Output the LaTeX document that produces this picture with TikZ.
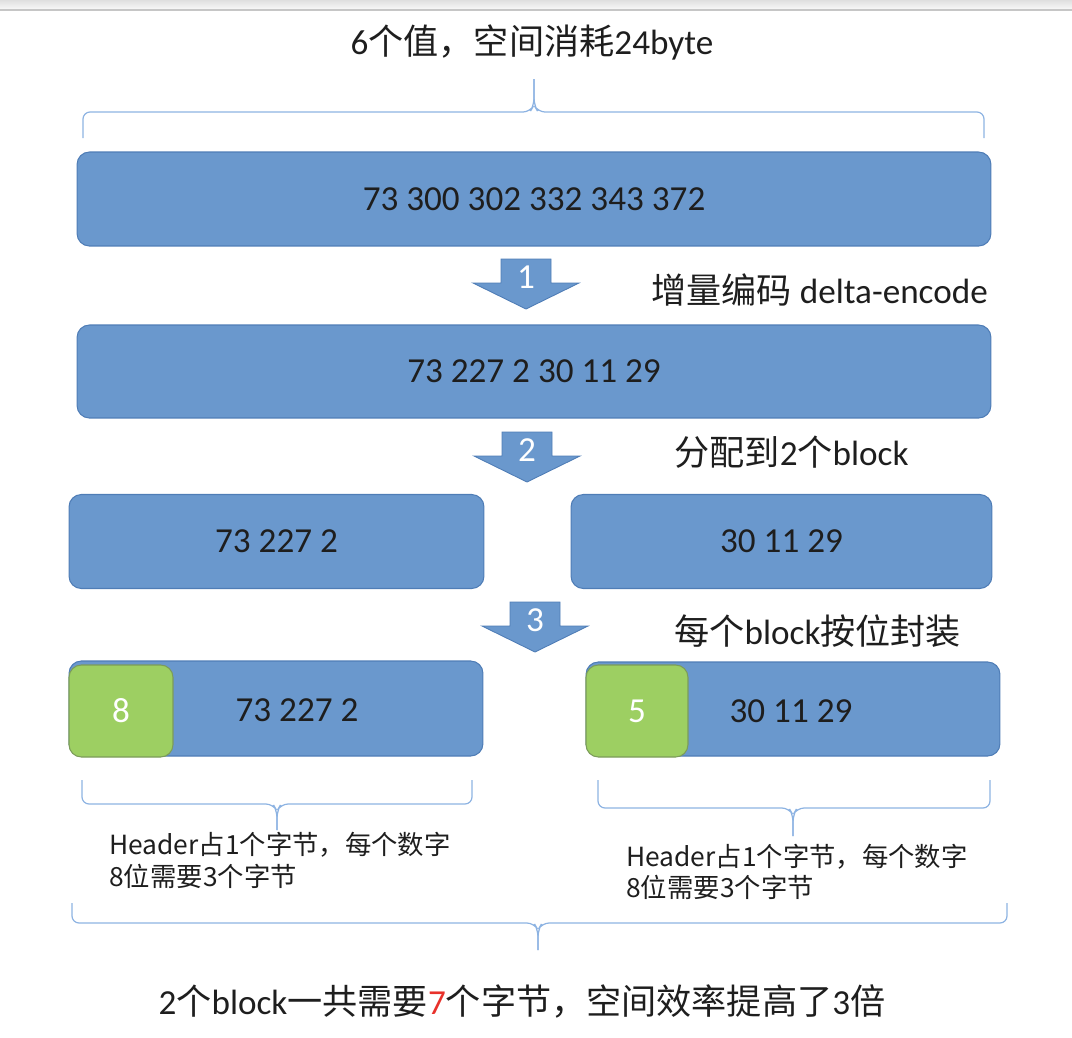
\documentclass[tikz,border=0pt]{standalone}
\usepackage{fontspec}
\setmainfont{Carlito}
\newfontfamily\cjk{Noto Sans CJK SC}
\usepackage{tikz}
\usetikzlibrary{positioning}
\definecolor{boxblue}{HTML}{6A98CD}
\definecolor{boxedge}{HTML}{4F7DB6}
\definecolor{hdrgreen}{HTML}{9DCF62}
\definecolor{hdredge}{HTML}{7C9C5A}
\definecolor{bracecol}{HTML}{8DB3E2}
\definecolor{txt}{HTML}{1E1E1E}
\definecolor{hot}{HTML}{E8312B}

\tikzset{
	valbox/.style={draw=boxedge,fill=boxblue,rounded corners=7pt,line width=0.6pt,inner sep=0pt,text=txt,font=\fontsize{20}{24}\selectfont},
	hdrbox/.style={draw=hdredge,fill=hdrgreen,rounded corners=7pt,line width=0.6pt,inner sep=0pt,text=white,font=\fontsize{20}{24}\selectfont},
	valtext/.style={inner sep=0pt,text=txt,font=\fontsize{20}{24}\selectfont},
	steparrow/.style={draw=boxedge,fill=boxblue,line width=0.5pt,line join=miter},
	stepnum/.style={inner sep=0pt,text=white,font=\fontsize{20}{24}\selectfont},
	steplabel/.style={anchor=west,inner sep=0pt,text=txt,font=\fontsize{20}{24}\selectfont},
	bracket/.style={draw=bracecol,line width=0.7pt,rounded corners=4pt},
	note/.style={anchor=west,align=left,inner sep=0pt,text=txt,font=\cjk\fontsize{15}{18}\selectfont}
}

\begin{document}
\begin{tikzpicture}[x=0.02cm,y=-0.02cm]
	\useasboundingbox (0,0) rectangle (1072,1038);
	% window edge at the top
	\fill[top color=gray!25,bottom color=gray!8] (0,0) rectangle (1072,8);
	\draw[gray!45,line width=0.8pt] (0,10) -- (1072,10);

	% title and the brace below it
	\node[valtext] (title) at (532,42) {6{\cjk 个值，空间消耗}24byte};
	\foreach \xa/\xb/\ye/\yl/\ym/\yt/\xt in {83/984/138/112/105/79/534, 82/472/780/804/811/830/277, 598/990/780/808/815/836/793, 72/1007/903/923/930/950/538}{
		\draw[bracket] (\xa,\ye) -- (\xa,\yl) -- (\xt-4,\yl) -- (\xt,\ym) -- (\xt,\yt);
		\draw[bracket] (\xb,\ye) -- (\xb,\yl) -- (\xt+4,\yl) -- (\xt,\ym) -- (\xt,\yt);
	}

	% value rows
	\node[valbox,minimum width=18.28cm,minimum height=1.88cm] (raw) at (534,199) {73 300 302 332 343 372};
	\node[valbox,minimum width=18.28cm,minimum height=1.86cm] (delta) at (534,371.5) {73 227 2 30 11 29};
	\node[valbox,minimum width=8.30cm,minimum height=1.88cm] (blkA) at (276.5,541.5) {73 227 2};
	\node[valbox,minimum width=8.42cm,minimum height=1.88cm] (blkB) at (781.5,541.5) {30 11 29};

	% packed blocks with header
	\node[valbox,minimum width=8.28cm,minimum height=1.90cm] (packA) at (276,708.5) {};
	\node[hdrbox,minimum width=2.08cm,minimum height=1.84cm] (hdrA) at (121,711) {8};
	\node[valtext] (bitsA) at (297,710) {73 227 2};
	\node[valbox,minimum width=8.28cm,minimum height=1.88cm] (packB) at (793,709) {};
	\node[hdrbox,minimum width=2.04cm,minimum height=1.84cm] (hdrB) at (637,711) {5};
	\node[valtext] (bitsB) at (791,711) {30 11 29};

	% step arrows
	\foreach \n/\cx/\ty in {1/526/259, 2/527/432, 3/535/602}{
		\draw[steparrow] (\cx-25,\ty) -- (\cx+25,\ty) -- (\cx+25,\ty+24) -- (\cx+53,\ty+24) -- (\cx,\ty+50) -- (\cx-53,\ty+24) -- (\cx-25,\ty+24) -- cycle;
		\node[stepnum] (arr\n) at (\cx,\ty+18) {\n};
	}
	\node[steplabel] (stepA) at (651,290) {{\cjk 增量编码} delta-encode};
	\node[steplabel] (stepB) at (674,452) {{\cjk 分配到}2{\cjk 个}block};
	\node[steplabel] (stepC) at (674,631) {{\cjk 每个}block{\cjk 按位封装}};

	% notes
	\node[note] (noteA) at (109,860.5) {Header占1个字节，每个数字\\8位需要3个字节};
	\node[note] (noteB) at (626,872) {Header占1个字节，每个数字\\8位需要3个字节};
	\node[valtext] (total) at (522,1001) {2{\cjk 个}block{\cjk 一共需要}\textcolor{hot}{7}{\cjk 个字节，空间效率提高了}3{\cjk 倍}};
\end{tikzpicture}
\end{document}
